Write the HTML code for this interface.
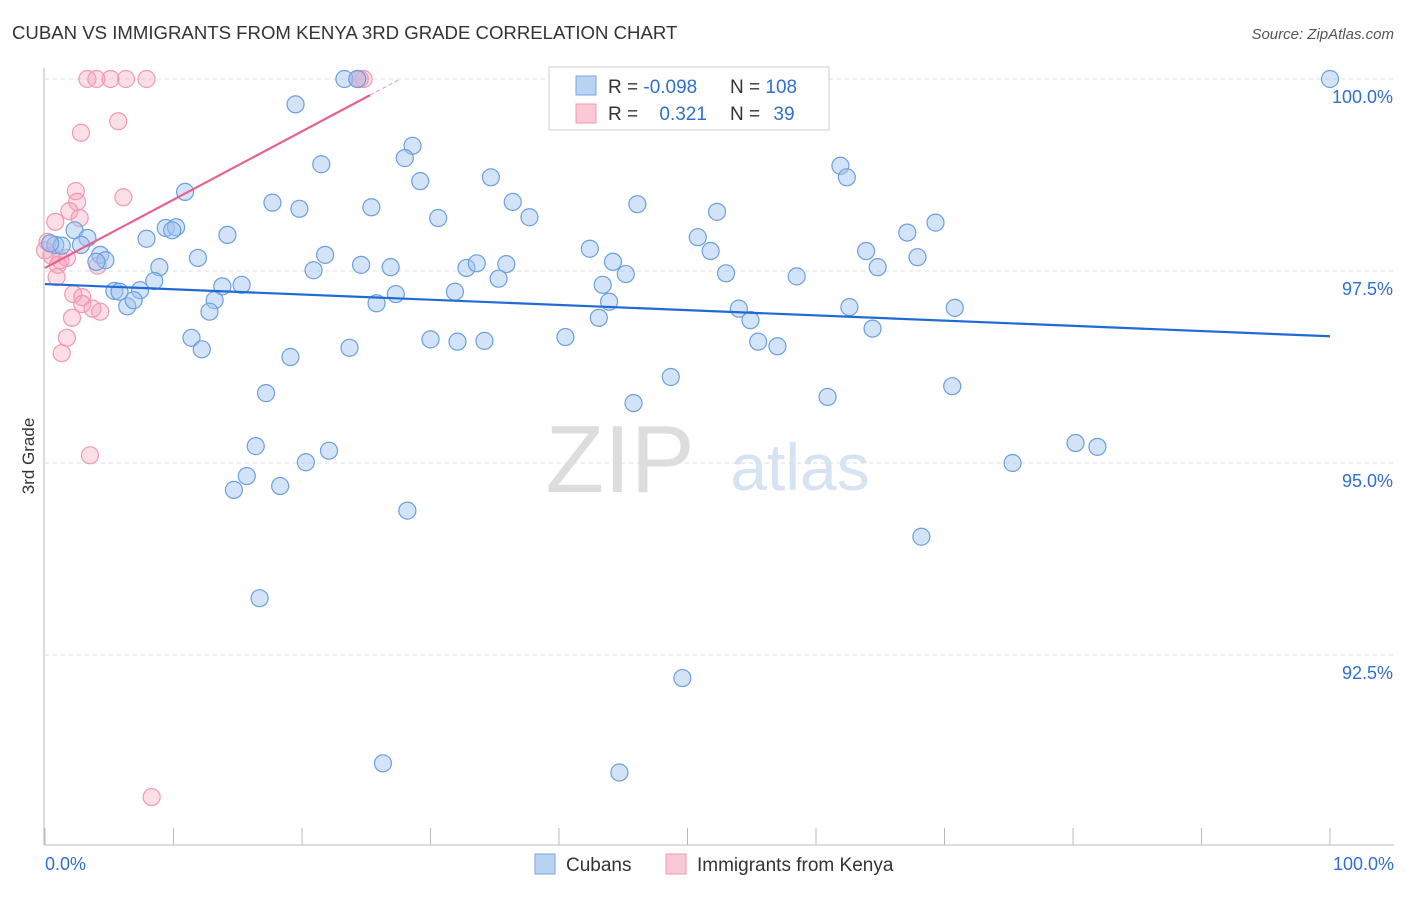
<!DOCTYPE html>
<html><head><meta charset="utf-8"><style>
body{margin:0;background:#fff;font-family:"Liberation Sans",sans-serif}
svg text{font-family:"Liberation Sans",sans-serif}
</style></head><body>
<svg id="c" width="1406" height="892" viewBox="0 0 1406 892">
<text x="12" y="39" font-size="18.6" fill="#333">CUBAN VS IMMIGRANTS FROM KENYA 3RD GRADE CORRELATION CHART</text>
<text x="1394" y="39" font-size="15" fill="#555" font-style="italic" text-anchor="end">Source: ZipAtlas.com</text>
<text x="34" y="456" font-size="17" fill="#333" transform="rotate(-90 34 456)" text-anchor="middle">3rd Grade</text>
<text x="620" y="492" font-size="96" fill="#ddd" font-family="Liberation Serif" text-anchor="middle">ZIP</text>
<text x="800" y="490" font-size="66" fill="#d6e3f3" text-anchor="middle">atlas</text>
<g id="grid"></g><g id="axes"></g><g id="pts"></g><g id="lines"></g>
<g>
<rect x="549" y="67" width="280" height="63" fill="#fff" stroke="#ccc"/>
<rect x="576" y="76" width="20" height="19" fill="#b9d3f3" stroke="#7aa6e0"/>
<rect x="576" y="104" width="20" height="19" fill="#fbc8d6" stroke="#ef9ab2"/>
<text x="608" y="93" font-size="19" fill="#333">R = <tspan fill="#2f6fd0">-0.098</tspan></text>
<text x="730" y="93" font-size="19" fill="#333">N = <tspan fill="#2f6fd0">108</tspan></text>
<text x="608" y="120" font-size="19" fill="#333">R = <tspan fill="#2f6fd0" dx="16">0.321</tspan></text>
<text x="730" y="120" font-size="19" fill="#333">N = <tspan fill="#2f6fd0" dx="8">39</tspan></text>
</g>
<g>
<rect x="535" y="854" width="20" height="20" fill="#b9d3f3" stroke="#7aa6e0"/>
<text x="566" y="871" font-size="19" fill="#333">Cubans</text>
<rect x="666" y="854" width="20" height="20" fill="#fbc8d6" stroke="#ef9ab2"/>
<text x="697" y="871" font-size="19" fill="#333">Immigrants from Kenya</text>
</g>
<text x="45" y="870" font-size="18" fill="#2f6fd0">0.0%</text>
<text x="1394" y="870" font-size="18" fill="#2f6fd0" text-anchor="end">100.0%</text>
</svg>
<script>
const yTicks=[100,97.5,95,92.5];
const yTickLabels=["100.0%","97.5%","95.0%","92.5%"];
const cubanX=[100,19.5,21.5,28.6,28.0,29.2,34.7,61.9,62.4,10.9,17.7,19.8,25.4,30.6,36.4,37.7,46.1,52.3,69.3,67.1,50.8,9.4,10.2,9.9,14.2,7.9,2.3,3.3,2.8,0.8,1.3,0.4,4.3,4.7,4.0,11.9,21.8,20.9,24.6,26.9,32.8,33.6,35.9,35.3,42.4,44.2,45.2,51.8,53.0,58.5,63.9,64.8,67.9,8.9,8.5,7.4,5.4,5.8,6.4,6.9,13.8,15.3,13.2,12.8,25.8,27.3,31.9,43.4,43.9,43.1,54.0,54.9,62.6,70.8,64.4,11.4,12.2,19.1,23.7,30.0,32.1,34.2,40.5,55.5,57.0,48.7,17.2,45.8,60.9,70.6,16.4,22.1,80.2,81.9,20.3,75.3,15.7,14.7,18.3,28.2,68.2,16.7,49.6,26.3,44.7,23.3,24.3];
const cubanY=[100,99.67,98.89,99.13,98.97,98.67,98.72,98.87,98.72,98.53,98.39,98.31,98.33,98.19,98.40,98.20,98.37,98.27,98.13,98.00,97.94,98.06,98.07,98.03,97.97,97.92,98.03,97.93,97.84,97.84,97.83,97.86,97.71,97.64,97.62,97.67,97.71,97.51,97.58,97.55,97.54,97.60,97.59,97.40,97.79,97.62,97.46,97.76,97.47,97.43,97.76,97.55,97.68,97.55,97.37,97.25,97.24,97.23,97.04,97.12,97.30,97.32,97.12,96.97,97.08,97.20,97.23,97.32,97.10,96.89,97.01,96.86,97.03,97.02,96.75,96.63,96.48,96.38,96.50,96.61,96.58,96.59,96.64,96.58,96.52,96.12,95.91,95.78,95.86,96.00,95.22,95.16,95.26,95.21,95.01,95.00,94.83,94.65,94.70,94.38,94.04,93.24,92.20,91.09,90.97,100,100];
const kenyaX=[3.3,4.0,5.1,6.3,7.9,24.3,24.8,24.5,5.7,2.8,6.1,2.4,2.5,1.9,2.7,0.8,0.2,0.5,1.2,1.7,1.0,4.1,0.9,2.2,2.9,2.9,3.7,4.3,2.1,1.7,1.3,3.5,8.3,0];
const kenyaY=[100,100,100,100,100,100,100,100,99.45,99.30,98.46,98.54,98.40,98.28,98.19,98.14,97.88,97.70,97.64,97.67,97.58,97.57,97.42,97.20,97.16,97.07,97.01,96.97,96.89,96.63,96.43,95.10,90.65,97.77];
const cubanTrend=[97.33,96.65];
const kenyaTrend=[97.54,99.79,25.3];
const NS="http://www.w3.org/2000/svg";
const sx=v=>45+v*12.85, sy=v=>79+(100-v)*76.8;
function mk(t,a,p){const e=document.createElementNS(NS,t);for(const k in a)e.setAttribute(k,a[k]);document.getElementById(p).appendChild(e);return e;}
yTicks.forEach((t,i)=>{
 const g=mk('line',{x1:45,x2:1394,y1:sy(t),y2:sy(t),stroke:'#ddd','stroke-dasharray':'4 4'},'grid');
 
 
 const tx=mk('text',{x:1393,y:sy(t)+24,'font-size':18,fill:'#2f6fd0','text-anchor':'end'},'grid');
 tx.textContent=yTickLabels[i];
 
 
});
const ax=mk('line',{x1:44,x2:44,y1:68,y2:845,stroke:'#bbb'},'axes');


const bx=mk('line',{x1:44,x2:1394,y1:845,y2:845,stroke:'#bbb'},'axes');


for(let i=0;i<=10;i++){const t=mk('line',{x1:sx(i*10),x2:sx(i*10),y1:828,y2:845,stroke:'#bbb'},'axes');
 
 }
kenyaX.forEach((x,i)=>{const c=mk('circle',{cx:sx(x),cy:sy(kenyaY[i]),r:8.5,fill:'rgba(246,160,187,0.35)',stroke:'#ef9ab2','stroke-width':1.2},'pts');
 
 });
cubanX.forEach((x,i)=>{const c=mk('circle',{cx:sx(x),cy:sy(cubanY[i]),r:8.5,fill:'rgba(160,196,240,0.45)',stroke:'#6b9fe0','stroke-width':1.2},'pts');
 
 });
const bl=mk('line',{x1:sx(0),y1:sy(cubanTrend[0]),x2:sx(100),y2:sy(cubanTrend[1]),stroke:'#1f6bd6','stroke-width':2.2},'lines');


const slope=(kenyaTrend[1]-kenyaTrend[0])/kenyaTrend[2];
const kl=mk('line',{x1:sx(0),y1:sy(kenyaTrend[0]),x2:sx(kenyaTrend[2]),y2:sy(kenyaTrend[1]),stroke:'#e8608e','stroke-width':2.2},'lines');


const xe=(100-kenyaTrend[0])/slope;
const kd=mk('line',{x1:sx(kenyaTrend[2]),y1:sy(kenyaTrend[1]),x2:sx(xe),y2:sy(100),stroke:'#e8a0b8','stroke-width':1.2,'stroke-dasharray':'4 3'},'lines');


</script>
</body></html>
